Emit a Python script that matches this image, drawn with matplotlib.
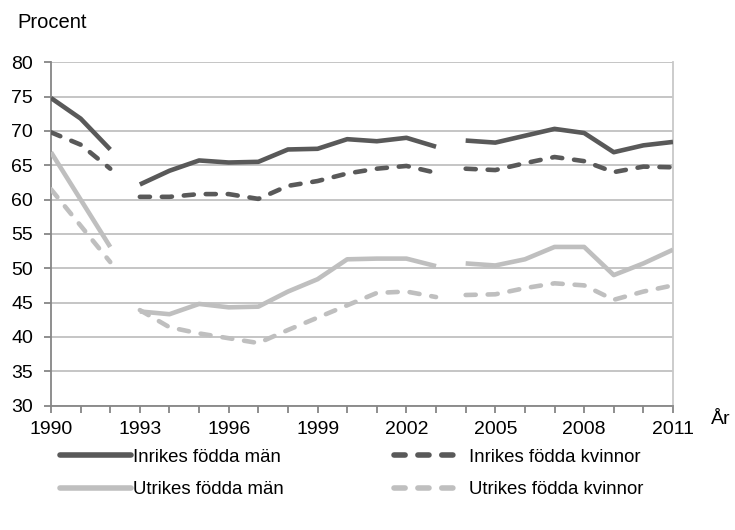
import matplotlib
matplotlib.use("Agg")
import matplotlib.pyplot as plt
import numpy as np
from matplotlib.lines import Line2D

plt.rcParams['font.family'] = ['Liberation Sans', 'DejaVu Sans']

years = list(range(1990, 2012))
# segments (series are broken between 1992/1993 and 2003/2004)
segments = [(1990, 1992), (1993, 2003), (2004, 2011)]

inrikes_man = [74.8, 71.8, 67.3, 62.2, 64.2, 65.7, 65.4, 65.5, 67.3, 67.4, 68.8,
               68.5, 69.0, 67.7, 68.6, 68.3, 69.3, 70.3, 69.7, 66.9, 67.9, 68.4]
inrikes_kvinnor = [69.8, 68.0, 64.5, 60.4, 60.4, 60.8, 60.8, 60.1, 62.0, 62.7, 63.8,
                   64.5, 64.9, 63.9, 64.5, 64.3, 65.3, 66.2, 65.6, 64.0, 64.8, 64.7]
utrikes_man = [66.9, 60.0, 53.1, 43.7, 43.3, 44.8, 44.3, 44.4, 46.6, 48.4, 51.3,
               51.4, 51.4, 50.3, 50.7, 50.4, 51.3, 53.1, 53.1, 49.0, 50.7, 52.7]
utrikes_kvinnor = [61.5, 56.2, 50.9, 43.9, 41.4, 40.5, 39.8, 39.1, 41.0, 42.8, 44.6,
                   46.4, 46.6, 45.8, 46.1, 46.2, 47.1, 47.8, 47.5, 45.4, 46.6, 47.5]

labels = ["Inrikes födda män", "Inrikes födda kvinnor",
          "Utrikes födda män", "Utrikes födda kvinnor"]
xtick_labels = [1990, 1993, 1996, 1999, 2002, 2005, 2008, 2011]
yticks = [30, 35, 40, 45, 50, 55, 60, 65, 70, 75, 80]

dark = "#595959"
light = "#BFBFBF"
dash = (2.2, 2.6)

series = [
    (inrikes_man, dark, '-'),
    (inrikes_kvinnor, dark, '--'),
    (utrikes_man, light, '-'),
    (utrikes_kvinnor, light, '--'),
]

fig = plt.figure(figsize=(7.35, 5.3), dpi=100)
ax = fig.add_axes([51/735, 1-405.5/530, 622/735, (405.5-62.3)/530])

yrs = np.array(years)
for vals, col, ls in series:
    v = np.array(vals)
    for a, b in segments:
        m = (yrs >= a) & (yrs <= b)
        if ls == '-':
            ax.plot(yrs[m], v[m], color=col, lw=3.3, solid_capstyle='butt',
                    solid_joinstyle='round', zorder=3)
        else:
            ax.plot(yrs[m], v[m], color=col, lw=3.3, dashes=dash,
                    dash_capstyle='round', dash_joinstyle='round', zorder=3)

ax.set_xlim(1990, 2011)
ax.set_ylim(30, 80)
ax.set_yticks(yticks)
ax.set_xticks(years, minor=False)
ax.set_xticklabels([str(y) if y in xtick_labels else '' for y in years])
ax.grid(axis='y', color='#C0C0C0', lw=1.3, zorder=0)
ax.set_axisbelow(True)

for s in ['left', 'bottom']:
    ax.spines[s].set_color('#868686')
    ax.spines[s].set_linewidth(1.3)
ax.spines['top'].set_visible(False)
ax.spines['right'].set_color('#C8C8C8')
ax.spines['right'].set_linewidth(1.3)

ax.tick_params(axis='both', direction='out', length=5, width=1.3, color='#868686',
               labelsize=14, labelcolor='black')
ax.tick_params(axis='x', pad=6)
ax.tick_params(axis='y', pad=8)

fig.text(17/735, 1-22/530, "Procent", fontsize=14.5, va='center', ha='left')
fig.text(711/735, 1-420/530, "År", fontsize=14, va='center', ha='left')

h_dark = Line2D([], [], color=dark, lw=4, solid_capstyle='round')
h_light = Line2D([], [], color=light, lw=4, solid_capstyle='round')
h_dark_d = Line2D([], [], color=dark, lw=4, dashes=(2.0, 2.3), dash_capstyle='round')
h_light_d = Line2D([], [], color=light, lw=4, dashes=(2.0, 2.3), dash_capstyle='round')

leg1 = fig.legend([h_dark, h_light], [labels[0], labels[2]], loc='center left',
                  frameon=False, bbox_to_anchor=(60/735, 1-473.5/530), fontsize=13.4,
                  handlelength=3.8, handletextpad=0.12, labelspacing=0.85,
                  borderpad=0, borderaxespad=0)
leg2 = fig.legend([h_dark_d, h_light_d], [labels[1], labels[3]], loc='center left',
                  frameon=False, bbox_to_anchor=(394/735, 1-473.5/530), fontsize=13.4,
                  handlelength=3.2, handletextpad=0.85, labelspacing=0.85,
                  borderpad=0, borderaxespad=0)

fig.savefig("out.png", dpi=100)
